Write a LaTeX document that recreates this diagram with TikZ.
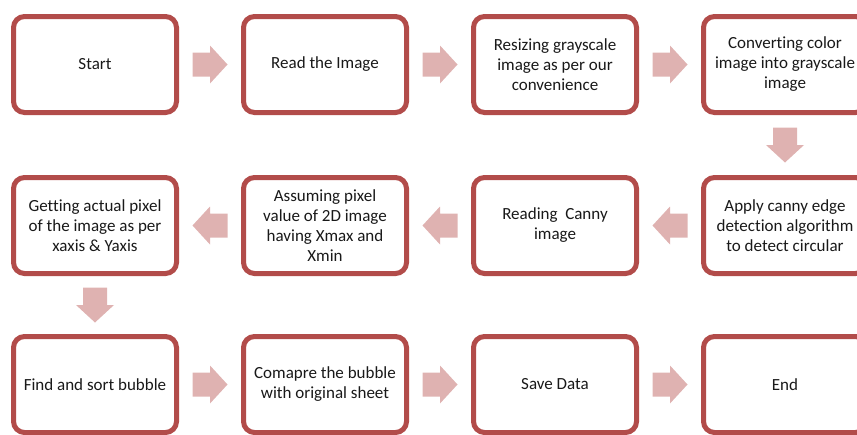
\documentclass[tikz,border=0pt]{standalone}
\usepackage{fontspec}
\setmainfont{Carlito}[Ligatures=NoCommon]
\usetikzlibrary{calc}
\definecolor{boxred}{HTML}{B24C4A}
\definecolor{arrowpink}{HTML}{DFB2B1}
\tikzset{
  stepbox/.style={draw=boxred, line width=5pt, rounded corners=11pt, fill=white,
    minimum width=163pt, minimum height=96pt, align=center, inner sep=2pt,
    font=\fontsize{17}{20}\selectfont, text=black!90},
  blockarrow/.pic={
    \fill[arrowpink] (-17.5,-12) -- (0,-12) -- (0,-19) -- (17.5,0) -- (0,19) -- (0,12) -- (-17.5,12) -- cycle;
  }
}
\begin{document}
\begin{tikzpicture}[x=1pt,y=-1pt]
\useasboundingbox (0,0) rectangle (857,434);
% row 1
\node[stepbox] (b1) at (95,64.5) {Start};
\node[stepbox] (b2) at (325,64.5) {Read the Image};
\node[stepbox] (b3) at (555,64.5) {Resizing grayscale\\image as per our\\convenience};
\node[stepbox] (b4) at (785,64.5) {Converting color\\image into grayscale\\image};
% row 2
\node[stepbox] (b8) at (95,225.5) {Getting actual pixel\\of the image as per\\xaxis \& Yaxis};
\node[stepbox] (b7) at (325,225.5) {Assuming pixel\\value of 2D image\\having Xmax and\\Xmin};
\node[stepbox] (b6) at (555,225.5) {Reading\ \ Canny\\image};
\node[stepbox] (b5) at (785,225.5) {Apply canny edge\\detection algorithm\\to detect circular};
% row 3
\node[stepbox] (b9) at (95,384.5) {Find and sort bubble};
\node[stepbox] (b10) at (325,384.5) {Comapre the bubble\\with original sheet};
\node[stepbox] (b11) at (555,384.5) {Save Data};
\node[stepbox] (b12) at (785,384.5) {End};
% arrows
\pic at ($(b1.east)!0.5!(b2.west)$) {blockarrow};
\pic at ($(b2.east)!0.5!(b3.west)$) {blockarrow};
\pic at ($(b3.east)!0.5!(b4.west)$) {blockarrow};
\pic[rotate=-90] at ($(b4.south)!0.5!(b5.north)$) {blockarrow};
\pic[rotate=180] at ($(b5.west)!0.5!(b6.east)$) {blockarrow};
\pic[rotate=180] at ($(b6.west)!0.5!(b7.east)$) {blockarrow};
\pic[rotate=180] at ($(b7.west)!0.5!(b8.east)$) {blockarrow};
\pic[rotate=-90] at ($(b8.south)!0.5!(b9.north)$) {blockarrow};
\pic at ($(b9.east)!0.5!(b10.west)$) {blockarrow};
\pic at ($(b10.east)!0.5!(b11.west)$) {blockarrow};
\pic at ($(b11.east)!0.5!(b12.west)$) {blockarrow};
\end{tikzpicture}
\end{document}
